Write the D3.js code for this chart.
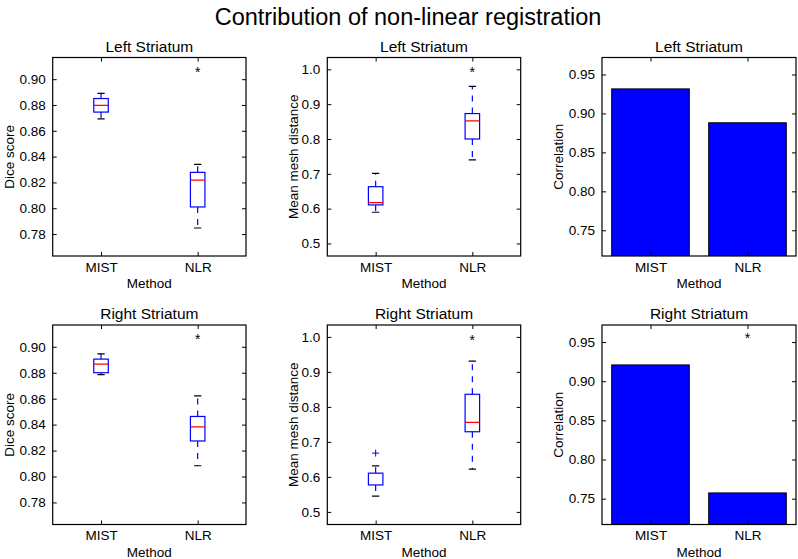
<!DOCTYPE html>
<html>
<head>
<meta charset="utf-8">
<script src="https://cdn.jsdelivr.net/npm/d3@7"></script>
<style>
  html, body { margin: 0; padding: 0; background: #fff; }
  svg { display: block; font-family: "Liberation Sans", Arial, Helvetica, sans-serif; }
</style>
</head>
<body>
<svg id="chart" width="798" height="559"></svg>
<script>
// ---------------- data ----------------
const methods = ["MIST", "NLR"];
const mainTitle = "Contribution of non-linear registration";
const rowTitles = ["Left Striatum", "Right Striatum"];
const xLabel = "Method";

// box stats: [whisker low, q1, median, q3, whisker high]
const diceLeft = [[0.8693, 0.8745, 0.8797, 0.8850, 0.8890], [0.7847, 0.8010, 0.8218, 0.8278, 0.8340]];
const diceRight = [[0.8786, 0.8800, 0.8866, 0.8905, 0.8946], [0.8083, 0.8274, 0.8383, 0.8463, 0.8621]];
const meshLeft = [[0.5897, 0.6107, 0.6173, 0.6630, 0.7014], [0.7400, 0.8000, 0.8520, 0.8730, 0.9510]];
const meshRight = [[0.5450, 0.5770, 0.6097, 0.6107, 0.6316], [0.6220, 0.7290, 0.7560, 0.8360, 0.9310]];
const meshRightFliers = [[0.668], []];
const corrLeft = [0.9315, 0.8880];
const corrRight = [0.9208, 0.7573];

// significance stars: [method index, y value]
const diceLeftStars = [[1, 0.908]];
const diceRightStars = [[1, 0.908]];
const meshLeftStars = [[1, 1.0]];
const meshRightStars = [[1, 1.0]];
const corrRightStars = [[1, 0.9586]];

const diceTicks = [0.78, 0.80, 0.82, 0.84, 0.86, 0.88, 0.90];
const meshTicks = [0.5, 0.6, 0.7, 0.8, 0.9, 1.0];
const corrTicks = [0.75, 0.80, 0.85, 0.90, 0.95];

const diceDomain = [0.763, 0.9168];
const meshDomain = [0.464, 1.034];
const corrDomain = [0.717, 0.9718];

// ---------------- layout ----------------
const svg = d3.select("#chart");
const cols = [[52.7, 246], [327.3, 520.7], [602, 796]];
const rows = [[57.5, 256], [325, 524.5]];
const FONT = "Liberation Sans, Arial, Helvetica, sans-serif";

svg.append("text")
  .attr("x", 408).attr("y", 25)
  .attr("text-anchor", "middle")
  .attr("font-size", 23.5)
  .attr("fill", "#000")
  .text(mainTitle);

const panels = [
  {row: 0, col: 0, type: "box", data: diceLeft, fliers: null, stars: diceLeftStars, ticks: diceTicks, fmt: ".2f", domain: diceDomain, ylab: "Dice score", ylx: 9},
  {row: 0, col: 1, type: "box", data: meshLeft, fliers: null, stars: meshLeftStars, ticks: meshTicks, fmt: ".1f", domain: meshDomain, ylab: "Mean mesh distance", ylx: 292.5},
  {row: 0, col: 2, type: "bar", data: corrLeft, stars: [], ticks: corrTicks, fmt: ".2f", domain: corrDomain, ylab: "Correlation", ylx: 558},
  {row: 1, col: 0, type: "box", data: diceRight, fliers: null, stars: diceRightStars, ticks: diceTicks, fmt: ".2f", domain: diceDomain, ylab: "Dice score", ylx: 9},
  {row: 1, col: 1, type: "box", data: meshRight, fliers: meshRightFliers, stars: meshRightStars, ticks: meshTicks, fmt: ".1f", domain: meshDomain, ylab: "Mean mesh distance", ylx: 292.5},
  {row: 1, col: 2, type: "bar", data: corrRight, stars: corrRightStars, ticks: corrTicks, fmt: ".2f", domain: corrDomain, ylab: "Correlation", ylx: 558}
];

panels.forEach(p => {
  const [x0, x1] = cols[p.col];
  const [y0, y1] = rows[p.row];
  const x = d3.scaleLinear().domain([0.5, 2.5]).range([x0, x1]);
  const y = d3.scaleLinear().domain(p.domain).range([y1, y0]);
  const g = svg.append("g");
  const clipId = "clip" + p.row + p.col;
  svg.append("clipPath").attr("id", clipId)
    .append("rect").attr("x", x0).attr("y", y0).attr("width", x1 - x0).attr("height", y1 - y0);
  const plot = g.append("g").attr("clip-path", "url(#" + clipId + ")");

  if (p.type === "bar") {
    plot.selectAll("rect.bar").data(p.data).enter().append("rect")
      .attr("class", "bar")
      .attr("x", (d, i) => x(i + 1 - 0.4))
      .attr("width", (d, i) => x(i + 1 + 0.4) - x(i + 1 - 0.4))
      .attr("y", d => y(d))
      .attr("height", d => y(p.domain[0]) - y(d) + 2)
      .attr("fill", "#0000ff")
      .attr("stroke", "#000")
      .attr("stroke-width", 1);
  } else {
    const bw = 0.15, cw = 0.075;
    p.data.forEach((s, i) => {
      const cx = i + 1;
      const [lo, q1, med, q3, hi] = s;
      // whiskers (dashed, from box edge outward)
      plot.append("line").attr("x1", x(cx)).attr("x2", x(cx)).attr("y1", y(q1)).attr("y2", y(lo))
        .attr("stroke", "#0000ff").attr("stroke-width", 1.2).attr("stroke-dasharray", "6,6");
      plot.append("line").attr("x1", x(cx)).attr("x2", x(cx)).attr("y1", y(q3)).attr("y2", y(hi))
        .attr("stroke", "#0000ff").attr("stroke-width", 1.2).attr("stroke-dasharray", "6,6");
      // caps
      [lo, hi].forEach(v => {
        plot.append("line").attr("x1", x(cx - cw / 2)).attr("x2", x(cx + cw / 2)).attr("y1", y(v)).attr("y2", y(v))
          .attr("stroke", "#000").attr("stroke-width", 1.2);
      });
      // box
      plot.append("rect").attr("x", x(cx - bw / 2)).attr("width", x(cx + bw / 2) - x(cx - bw / 2))
        .attr("y", y(q3)).attr("height", y(q1) - y(q3))
        .attr("fill", "none").attr("stroke", "#0000ff").attr("stroke-width", 1.2);
      // median
      plot.append("line").attr("x1", x(cx - bw / 2)).attr("x2", x(cx + bw / 2)).attr("y1", y(med)).attr("y2", y(med))
        .attr("stroke", "#ff0000").attr("stroke-width", 1.2);
      // fliers
      if (p.fliers) {
        p.fliers[i].forEach(v => {
          const fx = x(cx), fy = y(v);
          plot.append("path").attr("d", `M${fx - 3.5},${fy}H${fx + 3.5}M${fx},${fy - 3.5}V${fy + 3.5}`)
            .attr("stroke", "#0000ff").attr("stroke-width", 1);
        });
      }
    });
  }

  // stars
  p.stars.forEach(([i, v]) => {
    g.append("text").attr("x", x(i + 1)).attr("y", y(v) + 8)
      .attr("text-anchor", "middle").attr("font-size", 14).attr("fill", "#000").text("*");
  });

  // axes (ticks inside, on all four sides)
  const tickVals = [1, 2];
  const left = d3.axisLeft(y).tickValues(p.ticks).tickFormat(d3.format(p.fmt)).tickSizeInner(-4).tickSizeOuter(0).tickPadding(7);
  const right = d3.axisRight(y).tickValues(p.ticks).tickFormat("").tickSizeInner(-4).tickSizeOuter(0);
  const bottom = d3.axisBottom(x).tickValues(tickVals).tickFormat((d, i) => methods[i]).tickSizeInner(-4).tickSizeOuter(0).tickPadding(6);
  const top = d3.axisTop(x).tickValues(tickVals).tickFormat("").tickSizeInner(-4).tickSizeOuter(0);

  const styleAxis = sel => {
    sel.select(".domain").remove();
    sel.selectAll("line").attr("stroke", "#000").attr("stroke-width", 1);
    sel.selectAll("text").attr("font-family", FONT).attr("font-size", 13.5).attr("fill", "#000");
  };
  g.append("g").attr("transform", `translate(${x0},0)`).call(left).call(styleAxis);
  g.append("g").attr("transform", `translate(${x1},0)`).call(right).call(styleAxis);
  g.append("g").attr("transform", `translate(0,${y1})`).call(bottom).call(styleAxis);
  g.append("g").attr("transform", `translate(0,${y0})`).call(top).call(styleAxis);

  // frame
  g.append("rect").attr("x", x0).attr("y", y0).attr("width", x1 - x0).attr("height", y1 - y0)
    .attr("fill", "none").attr("stroke", "#000").attr("stroke-width", 1.2);

  // titles & labels
  g.append("text").attr("x", (x0 + x1) / 2).attr("y", y0 - 6)
    .attr("text-anchor", "middle").attr("font-size", 15.5).attr("fill", "#000").text(rowTitles[p.row]);
  g.append("text").attr("x", (x0 + x1) / 2).attr("y", y1 + 32)
    .attr("text-anchor", "middle").attr("font-size", 13.5).attr("fill", "#000").text(xLabel);
  g.append("text").attr("transform", `translate(${p.ylx + 5},${(y0 + y1) / 2}) rotate(-90)`)
    .attr("text-anchor", "middle").attr("font-size", 13.5).attr("fill", "#000").text(p.ylab);
});
</script>
</body>
</html>
